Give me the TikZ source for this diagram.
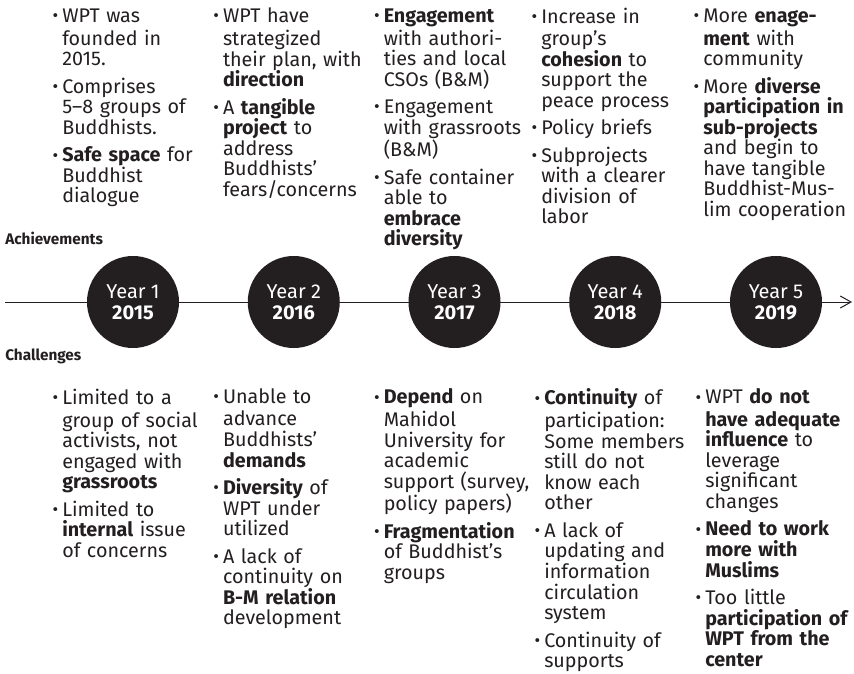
\documentclass[tikz,border=0pt]{standalone}
\usepackage{fontspec}
\setmainfont{Fira Sans}
\usetikzlibrary{arrows.meta}
\definecolor{ink}{HTML}{231F20}
\setlength{\parindent}{0pt}
\setlength{\parskip}{0pt}
% body text: 14.8pt on a 15.4pt leading
\newcommand{\bodyfont}{\fontsize{14.8pt}{15.4pt}\selectfont}
% hanging bullet placed left of the text edge
\newcommand{\bul}{\makebox[0pt][r]{\raisebox{0.04em}{\scalebox{0.88}{\textbullet}}\hspace{3pt}}}
% start of the first item / of every later item
\newcommand{\firstitem}{\strut\bul}
\newcommand{\nextitem}{\par\vspace{5.25pt}\bul}

\begin{document}
\begin{tikzpicture}[x=0.75pt,y=-0.75pt,
  col/.style={anchor=north west, inner sep=0pt, text width=124pt, align=left,
              font=\bodyfont, text=ink},
  yearbox/.style={circle, fill=ink, minimum size=69pt, inner sep=0pt,
              text=white, align=center, font=\fontsize{15pt}{15.75pt}\selectfont},
  sidelabel/.style={anchor=base west, inner sep=0pt, text=ink,
              font=\bfseries\fontsize{11.5pt}{13pt}\selectfont},
  timeline/.style={draw=ink, line width=0.75pt,
              -{Straight Barb[length=8pt,width=9pt,line width=0.75pt]}}]
\useasboundingbox (0,0) rectangle (854,674);

% ---- axis with the five years ----
\coordinate (axisstart) at (5,302);
\coordinate (axisend) at (852,302);
\draw[timeline] (axisstart) -- (axisend);

\node[yearbox] (y1) at (133,302)    {Year 1\\\textbf{2015}};
\node[yearbox] (y2) at (293.75,302) {Year 2\\\textbf{2016}};
\node[yearbox] (y3) at (454.5,302)  {Year 3\\\textbf{2017}};
\node[yearbox] (y4) at (615.25,302) {Year 4\\\textbf{2018}};
\node[yearbox] (y5) at (776,302)    {Year 5\\\textbf{2019}};

\node[sidelabel] (ach) at (5,244) {Achievements};
\node[sidelabel] (cha) at (5,360) {Challenges};

% ---- achievements ----
\node[col] (a1) at (62,7.6) {%
\firstitem WPT was\\ founded in\\ 2015.
\nextitem Comprises\\ 5–8 groups of\\ Buddhists.
\nextitem \textbf{Safe space} for\\ Buddhist\\ dialogue};

\node[col] (a2) at (222.75,7.6) {%
\firstitem WPT have\\ strategized\\ their plan, with\\ \textbf{direction}
\nextitem A \textbf{tangible}\\ \textbf{project} to\\ address\\ Buddhists’\\ fears/concerns};

\node[col] (a3) at (383.5,7.6) {%
\firstitem \textbf{Engagement}\\ with authori-\\ ties and local\\ CSOs (B\&M)
\nextitem Engagement\\ with grassroots\\ (B\&M)
\nextitem Safe container\\ able to\\ \textbf{embrace}\\ \textbf{diversity}};

\node[col] (a4) at (541,7.6) {%
\firstitem Increase in\\ group’s\\ \textbf{cohesion} to\\ support the\\ peace process
\nextitem Policy briefs
\nextitem Subprojects\\ with a clearer\\ division of\\ labor};

\node[col] (a5) at (703,7.6) {%
\firstitem More \textbf{enage-}\\ \textbf{ment} with\\ community
\nextitem More \textbf{diverse}\\ \textbf{participation in}\\ \textbf{sub-projects}\\ and begin to\\ have tangible\\ Buddhist-Mus-\\ lim cooperation};

% ---- challenges ----
\node[col] (c1) at (62,388.6) {%
\firstitem Limited to a\\ group of social\\ activists, not\\ engaged with\\ \textbf{grassroots}
\nextitem Limited to\\ \textbf{internal} issue\\ of concerns};

\node[col] (c2) at (222.75,388.6) {%
\firstitem Unable to\\ advance\\ Buddhists’\\ \textbf{demands}
\nextitem \textbf{Diversity} of\\ WPT under\\ utilized
\nextitem A lack of\\ continuity on\\ \textbf{B-M relation}\\ development};

\node[col] (c3) at (383.5,388.6) {%
\firstitem \textbf{Depend} on\\ Mahidol\\ University for\\ academic\\ support (survey,\\ policy papers)
\nextitem \textbf{Fragmentation}\\ of Buddhist’s\\ groups};

\node[col] (c4) at (544,388.6) {%
\firstitem \textbf{Continuity} of\\ participation:\\ Some members\\ still do not\\ know each\\ other
\nextitem A lack of\\ updating and\\ information\\ circulation\\ system
\nextitem Continuity of\\ supports};

\node[col] (c5) at (705,388.6) {%
\firstitem WPT \textbf{do not}\\ \textbf{have adequate}\\ \textbf{influence} to\\ leverage\\ significant\\ changes
\nextitem \textbf{Need to work}\\ \textbf{more with}\\ \textbf{Muslims}
\nextitem Too little\\ \textbf{participation of}\\ \textbf{WPT from the}\\ \textbf{center}};
\end{tikzpicture}
\end{document}
